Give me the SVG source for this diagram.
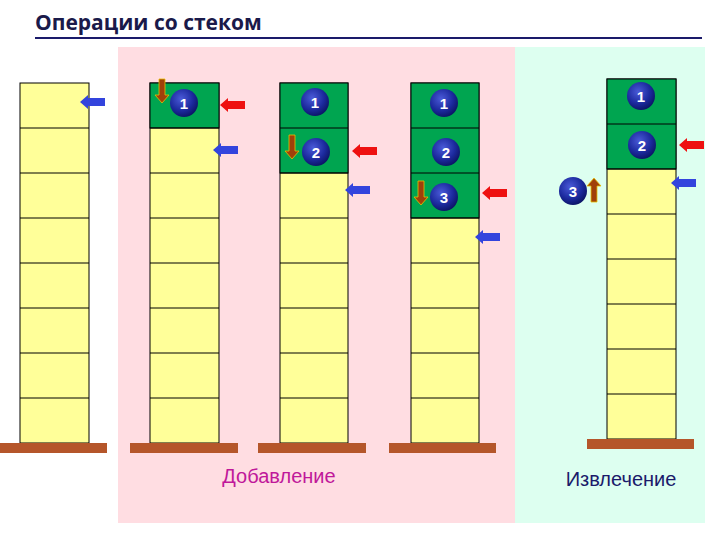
<svg xmlns="http://www.w3.org/2000/svg" width="720" height="540" viewBox="0 0 720 540">
<defs>
<radialGradient id="ball" cx="0.4" cy="0.35" r="0.7"><stop offset="0" stop-color="#4a5ad8"/><stop offset="0.6" stop-color="#1c2a9e"/><stop offset="1" stop-color="#0a1260"/></radialGradient>
<g id="la"><polygon points="0,0 8,-7 8,-4 25,-4 25,4 8,4 8,7"/></g>
<g id="dn"><polygon points="-3,-12 3,-12 3,4 7,4 0,12 -7,4 -3,4" fill="#a0400a" stroke="#e8c000" stroke-width="0.8"/></g>
</defs>
<style>
.c{fill:#ffff99;stroke:#000;stroke-width:1}
.g{fill:#00a550;stroke:#000;stroke-width:1}
.b{fill:#b5562a}
.bl{fill:#3344dd}
.rd{fill:#ee1111}
.n{font-family:"Liberation Sans",Arial,sans-serif;font-size:15px;font-weight:bold;fill:#fff;text-anchor:middle}
</style>
<rect width="720" height="540" fill="#fff"/>
<rect x="118" y="47" width="397" height="476" fill="#ffdde2"/>
<rect x="515" y="47" width="190" height="476" fill="#ddfff0"/>
<text x="35" y="30" font-family="'Open Sans','DejaVu Sans',sans-serif" font-size="21" font-weight="bold" fill="#1a1a4a">Операции со стеком</text>
<line x1="35" y1="38" x2="702" y2="38" stroke="#1a1a6a" stroke-width="2"/>

<g id="stack1">
<rect class="c" x="20" y="83" width="69" height="360"/>
<path d="M20 128H89M20 173H89M20 218H89M20 263H89M20 308H89M20 353H89M20 398H89" stroke="#000"/>
<rect class="b" x="0" y="443" width="107" height="10"/>
</g>
<g id="stack2">
<rect class="c" x="150" y="83" width="69" height="360"/>
<rect class="g" x="150" y="83" width="69" height="45"/>
<path d="M150 128H219M150 173H219M150 218H219M150 263H219M150 308H219M150 353H219M150 398H219" stroke="#000"/>
<rect class="b" x="130" y="443" width="108" height="10"/>
</g>
<g id="stack3">
<rect class="c" x="280" y="83" width="68" height="360"/>
<rect class="g" x="280" y="83" width="68" height="90"/>
<path d="M280 128H348M280 173H348M280 218H348M280 263H348M280 308H348M280 353H348M280 398H348" stroke="#000"/>
<rect class="b" x="258" y="443" width="108" height="10"/>
</g>
<g id="stack4">
<rect class="c" x="411" y="83" width="68" height="360"/>
<rect class="g" x="411" y="83" width="68" height="135"/>
<path d="M411 128H479M411 173H479M411 218H479M411 263H479M411 308H479M411 353H479M411 398H479" stroke="#000"/>
<rect class="b" x="389" y="443" width="107" height="10"/>
</g>
<g id="stack5">
<rect class="c" x="607" y="79" width="69" height="360"/>
<rect class="g" x="607" y="79" width="69" height="90"/>
<path d="M607 124H676M607 169H676M607 214H676M607 259H676M607 304H676M607 349H676M607 394H676" stroke="#000"/>
<rect class="b" x="587" y="439" width="107" height="10"/>
</g>

<g id="balls">
<circle cx="184" cy="103" r="14" fill="url(#ball)"/><text class="n" x="184" y="109">1</text>
<circle cx="315" cy="102" r="14" fill="url(#ball)"/><text class="n" x="315" y="108">1</text>
<circle cx="316" cy="152" r="14" fill="url(#ball)"/><text class="n" x="316" y="158">2</text>
<circle cx="444" cy="103" r="14" fill="url(#ball)"/><text class="n" x="444" y="109">1</text>
<circle cx="446" cy="152" r="14" fill="url(#ball)"/><text class="n" x="446" y="158">2</text>
<circle cx="444" cy="197" r="14" fill="url(#ball)"/><text class="n" x="444" y="203">3</text>
<circle cx="641" cy="96" r="14" fill="url(#ball)"/><text class="n" x="641" y="102">1</text>
<circle cx="642" cy="145" r="14" fill="url(#ball)"/><text class="n" x="642" y="151">2</text>
<circle cx="573" cy="191" r="14" fill="url(#ball)"/><text class="n" x="573" y="197">3</text>
</g>

<g id="connectors">
<use href="#la" class="bl" x="80" y="102"/>
<use href="#la" class="rd" x="220" y="105"/>
<use href="#la" class="bl" x="213" y="150"/>
<use href="#la" class="rd" x="352" y="151"/>
<use href="#la" class="bl" x="345" y="190"/>
<use href="#la" class="rd" x="482" y="193"/>
<use href="#la" class="bl" x="475" y="237"/>
<use href="#la" class="rd" x="679" y="145"/>
<use href="#la" class="bl" x="671" y="183"/>
<use href="#dn" x="162" y="91"/>
<use href="#dn" x="292" y="147"/>
<use href="#dn" x="421" y="193"/>
<use href="#dn" transform="translate(594,190) rotate(180)"/>
</g>

<text x="279" y="483" font-family="'Liberation Sans',Arial,sans-serif" font-size="20" fill="#c0189a" text-anchor="middle">Добавление</text>
<text x="621" y="486" font-family="'Liberation Sans',Arial,sans-serif" font-size="20" fill="#1a1a6a" text-anchor="middle">Извлечение</text>
</svg>
